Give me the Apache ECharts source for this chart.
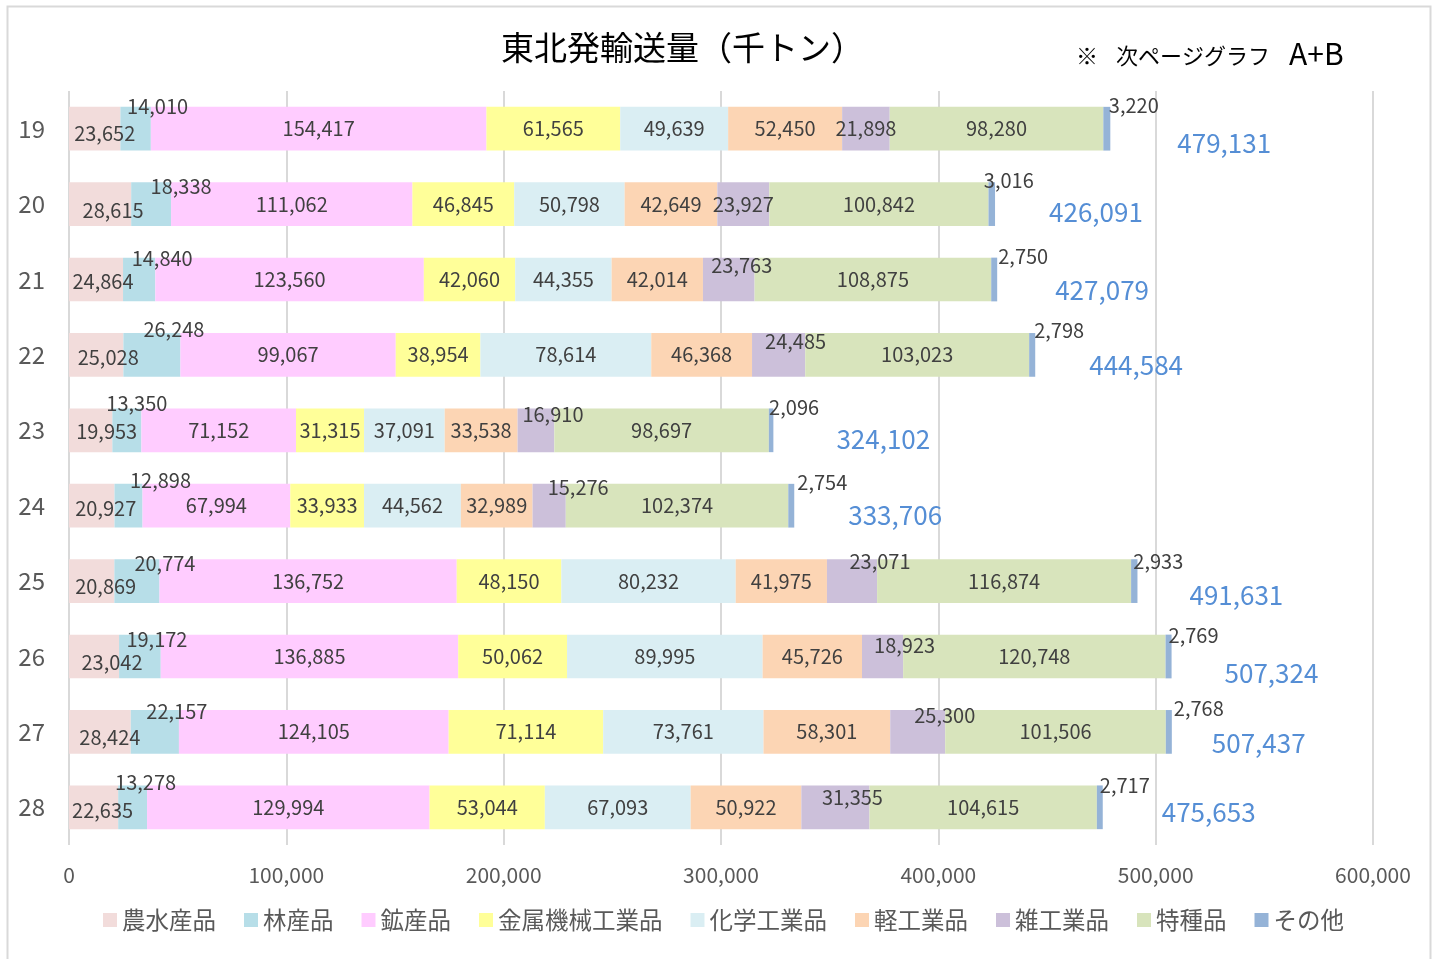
<!DOCTYPE html>
<html>
<head>
<meta charset="utf-8">
<script src="https://cdn.jsdelivr.net/npm/echarts@6/dist/echarts.min.js"></script>
<style>
html,body{margin:0;padding:0;background:#fff;}
#chart{width:1439px;height:959px;}
</style>
</head>
<body>
<div id="chart"></div>
<script>
// ---- data ----
const categories = ['19','20','21','22','23','24','25','26','27','28'];
const seriesNames = ['農水産品','林産品','鉱産品','金属機械工業品','化学工業品','軽工業品','雑工業品','特種品','その他'];
const agri     = [23652, 28615, 24864, 25028, 19953, 20927, 20869, 23042, 28424, 22635];
const forest   = [14010, 18338, 14840, 26248, 13350, 12898, 20774, 19172, 22157, 13278];
const mineral  = [154417, 111062, 123560, 99067, 71152, 67994, 136752, 136885, 124105, 129994];
const metal    = [61565, 46845, 42060, 38954, 31315, 33933, 48150, 50062, 71114, 53044];
const chemical = [49639, 50798, 44355, 78614, 37091, 44562, 80232, 89995, 73761, 67093];
const light    = [52450, 42649, 42014, 46368, 33538, 32989, 41975, 45726, 58301, 50922];
const misc     = [21898, 23927, 23763, 24485, 16910, 15276, 23071, 18923, 25300, 31355];
const special  = [98280, 100842, 108875, 103023, 98697, 102374, 116874, 120748, 101506, 104615];
const other    = [3220, 3016, 2750, 2798, 2096, 2754, 2933, 2769, 2768, 2717];
const totals   = [479131, 426091, 427079, 444584, 324102, 333706, 491631, 507324, 507437, 475653];
const xTicks   = [0, 100000, 200000, 300000, 400000, 500000, 600000];

// ---- styling ----
const colors = ['#F2DCDB','#B7DEE8','#FFCCFF','#FFFF99','#DAEEF3','#FCD5B4','#CCC0DA','#D8E4BC','#95B3D7'];
const FONT = '"Noto Sans CJK JP", "Noto Sans", sans-serif';
// label nudges (pixel offsets) per series, per row
const nudges = {
  0: [[10,5],[13,6],[7,2],[12,3],[16,1],[14,3],[14,5],[18,6],[10,6],[9,3]],
  1: [[22,-22],[30,-18],[23,-21],[22,-25],[10,-27],[32,-25],[28,-18],[17,-17],[22,-20],[13,-25]],
  6: [[0,0],[0,0],[13,-14],[17,-13],[17,-16],[29,-18],[28,-20],[22,-11],[27,-16],[17,-10]],
  8: [[27,-23],[17,-24],[29,-23],[27,-24],[23,-23],[31,-23],[24,-20],[25,-21],[30,-23],[25,-22]]
};
const totalNudges = [[67,14],[54,8],[58,11],[54,10],[63,9],[54,9],[52,14],[53,17],[40,11],[59,5]];

const fmt = v => Number(v).toLocaleString('en-US');
const seriesData = [agri, forest, mineral, metal, chemical, light, misc, special, other];

const series = seriesData.map((arr, si) => ({
  name: seriesNames[si],
  type: 'bar',
  stack: 'total',
  barCategoryGap: '42%',
  barGap: '-100%',
  itemStyle: { color: colors[si] },
  emphasis: { disabled: true },
  label: {
    show: true, position: 'inside',
    fontFamily: FONT, fontSize: 20, color: '#404040',
    formatter: p => fmt(p.value)
  },
  data: arr.map((v, ri) => {
    const n = nudges[si] ? nudges[si][ri] : [0,0];
    return { value: v, label: { offset: n } };
  })
}));

series.push({
  name: '合計',
  type: 'bar',
  barGap: '-100%',
  barCategoryGap: '42%',
  silent: true,
  z: 1,
  itemStyle: { color: 'rgba(0,0,0,0)' },
  emphasis: { disabled: true },
  label: {
    show: true, position: 'right', distance: 0,
    fontFamily: FONT, fontSize: 26, color: '#558ED5',
    formatter: p => fmt(p.value)
  },
  data: totals.map((v, ri) => ({ value: v, label: { offset: totalNudges[ri] } }))
});

const chart = echarts.init(document.getElementById('chart'), null, { renderer: 'canvas' });
chart.setOption({
  animation: false,
  backgroundColor: '#fff',
  title: {
    text: '東北発輸送量（千トン）',
    left: 496, top: 22,
    textStyle: { fontFamily: FONT, fontSize: 33, fontWeight: 'normal', color: '#000', lineHeight: 40 }
  },
  graphic: [
    { type: 'rect', left: 5, top: 4, shape: { width: 1423, height: 970 }, style: { fill: 'none', stroke: '#D9D9D9', lineWidth: 2 }, z: -10, silent: true },
    { type: 'text', left: 1076, top: 45, style: { text: '※', font: '22px ' + FONT, fill: '#000' } },
    { type: 'text', left: 1116, top: 45, style: { text: '次ページグラフ', font: '22px ' + FONT, fill: '#000' } },
    { type: 'text', left: 1289, top: 39, style: { text: 'A+B', font: '30px ' + FONT, fill: '#000' } }
  ],
  color: colors,
  legend: {
    data: seriesNames,
    left: 98, top: 902,
    icon: 'rect', itemWidth: 14, itemHeight: 14, itemGap: 28,
    textStyle: { fontFamily: FONT, fontSize: 23.5, color: '#595959', lineHeight: 26 },
    selectedMode: false
  },
  grid: { left: 69, right: 66, top: 91, bottom: 114, containLabel: false },
  xAxis: {
    type: 'value', min: xTicks[0], max: xTicks[xTicks.length-1], interval: 100000,
    axisLine: { show: false }, axisTick: { show: false },
    splitLine: { show: true, lineStyle: { color: '#D9D9D9', width: 2 } },
    axisLabel: { fontFamily: FONT, fontSize: 21, color: '#595959', margin: 20, formatter: v => fmt(v) }
  },
  yAxis: {
    type: 'category', data: categories, inverse: true,
    axisLine: { show: false }, axisTick: { show: false },
    axisLabel: { fontFamily: FONT, fontSize: 24, color: '#595959', margin: 24 }
  },
  series: series
});
</script>
</body>
</html>
